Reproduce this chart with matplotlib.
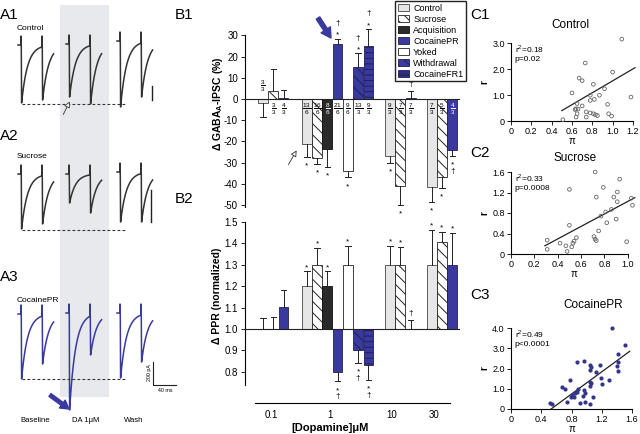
import numpy as np
import matplotlib
matplotlib.use('Agg')
import matplotlib.pyplot as plt
from matplotlib.patches import Patch, Rectangle

plt.rcParams['font.family'] = ['Liberation Sans', 'DejaVu Sans']
plt.rcParams['axes.unicode_minus'] = False
plt.rcParams['hatch.linewidth'] = 0.7
plt.rcParams['mathtext.fontset'] = 'custom'
plt.rcParams['mathtext.rm'] = 'Liberation Sans'
plt.rcParams['mathtext.bf'] = 'Liberation Sans:bold'

# ---- data -------------------------------------------------------------
# A: example traces (top of trace, 1st and 2nd IPSC peak, in panel pixels)
a_conditions = ['Baseline', 'DA 1\u03bcM', 'Wash']
a1_top = [45, 44, 41]
a1_peak1 = [103, 97, 107]
a1_peak2 = [100, 104, 97]
a2_top = [174, 174, 172]
a2_peak1 = [229, 203, 222]
a2_peak2 = [224, 213, 222]
a3_top = [314, 313, 313]
a3_peak1 = [379, 410, 378]
a3_peak2 = [364, 355, 362]

# B: bars
doses = ['0.1', '1', '10', '30']
bar_group = [0, 0, 0, 1, 1, 1, 1, 1, 1, 1, 2, 2, 2, 3, 3, 3]
bar_kind = ['Control', 'Sucrose', 'CocainePR',
            'Control', 'Sucrose', 'Acquisition', 'CocainePR', 'Yoked', 'Withdrawal', 'CocaineFR1',
            'Control', 'Sucrose', 'CocainePR',
            'Control', 'Sucrose', 'CocainePR']
b1_vals = [-2, 4, 0.4, -21, -28, -23.5, 26, -34, 15, 25, -27, -41, 0.6, -41.5, -37, -24]
b1_err = [6.5, 10, 4, 6.5, 2.5, 8.5, 2.5, 3, 6.5, 8, 3, 9, 3, 7, 5, 3]
b1_marks = ['', '', '', '*', '*', '*', '*\u2020', '*', '*\u2020', '*\u2020',
            '*', '*', '\u2020', '*', '*', '*\u2020']
b1_n = [('3', '3'), ('3', '3'), ('4', '3'), ('13', '6'), ('16', '6'), ('8', '6'), ('21', '6'),
        ('9', '6'), ('13', '3'), ('9', '3'), ('9', '3'), ('7', '3'), ('7', '3'),
        ('7', '3'), ('5', '3'), ('4', '3')]
b2_vals = [1.0, 1.0, 1.105, 1.2, 1.3, 1.2, 0.8, 1.3, 0.9, 0.83, 1.3, 1.3, 1.0, 1.3, 1.405, 1.3]
b2_err = [0.05, 0.055, 0.075, 0.07, 0.08, 0.07, 0.045, 0.09, 0.06, 0.07, 0.09, 0.085, 0.04,
          0.165, 0.05, 0.15]
b2_marks = ['', '', '', '*', '*', '*', '*\u2020', '*', '*\u2020', '*\u2020',
            '*', '*', '\u2020', '*', '*', '*']

# C: scatter (pi, r)
c1_x = [1.09, 0.73, 1.0, 0.67, 0.70, 0.81, 0.92, 0.60, 0.78, 0.87, 1.18, 0.78, 0.82, 0.65, 0.70,
        0.95, 0.64, 0.66, 0.63, 0.74, 0.78, 0.81, 0.83, 0.85, 0.96, 0.99, 0.65, 0.64, 0.74, 0.51]
c1_y = [3.15, 2.23, 1.88, 1.65, 1.55, 1.41, 1.24, 1.08, 0.99, 0.99, 0.92, 0.79, 0.83, 0.67, 0.58,
        0.64, 0.47, 0.46, 0.44, 0.35, 0.31, 0.28, 0.24, 0.21, 0.28, 0.19, 0.28, 0.15, 0.15, 0.05]
c1_fit = ([0.5, 1.22], [0.4, 2.05])
c2_x = [0.72, 0.93, 0.50, 0.79, 0.91, 0.73, 0.88, 0.91, 1.03, 1.04, 0.86, 0.81, 0.77, 0.82, 0.90,
        0.50, 0.75, 0.71, 0.72, 0.73, 0.56, 0.54, 0.53, 0.52, 0.31, 0.31, 0.42, 0.47, 0.48, 0.99]
c2_y = [1.60, 1.46, 1.26, 1.30, 1.21, 1.11, 1.11, 1.02, 1.09, 0.95, 0.87, 0.82, 0.74, 0.61, 0.68,
        0.56, 0.45, 0.34, 0.29, 0.26, 0.32, 0.25, 0.21, 0.14, 0.27, 0.09, 0.21, 0.16, 0.05, 0.24]
c2_fit = ([0.29, 1.06], [0.16, 1.10])
c3_x = [1.34, 1.51, 1.42, 1.41, 1.40, 1.41, 1.18, 0.96, 0.87, 1.05, 1.06, 1.04, 1.12, 1.19, 1.30,
        1.20, 1.04, 1.06, 1.05, 0.78, 0.67, 0.72, 0.89, 0.87, 0.84, 0.96, 0.98, 0.95, 0.81, 0.79,
        0.83, 1.08, 0.74, 0.91, 0.98, 1.05, 0.51, 0.54]
c3_y = [4.0, 3.15, 2.74, 2.33, 2.11, 1.89, 2.16, 2.36, 2.33, 2.16, 2.05, 1.95, 1.84, 1.54, 1.43,
        1.23, 1.34, 1.26, 1.13, 1.43, 1.07, 0.97, 0.97, 0.85, 0.80, 0.93, 0.77, 0.64, 0.69, 0.57,
        0.57, 0.57, 0.34, 0.31, 0.36, 0.23, 0.28, 0.25]
c3_fit = ([0.53, 1.57], [0.0, 2.85])

# ---- styles -----------------------------------------------------------
BLUE = '#3a3a9e'
NAVY = '#1e1e5e'
FILL = {'Control': '#e6e6e6', 'Sucrose': 'white', 'Acquisition': '#2a2a2a', 'CocainePR': BLUE,
        'Yoked': 'white', 'Withdrawal': BLUE, 'CocaineFR1': BLUE}
EDGE = {'Control': '#444444', 'Sucrose': '#222222', 'Acquisition': '#111111', 'CocainePR': '#22224a',
        'Yoked': '#222222', 'Withdrawal': NAVY, 'CocaineFR1': NAVY}
HATCH = {'Sucrose': '\\\\\\', 'Withdrawal': '\\\\\\', 'CocaineFR1': '---'}
DARK = ['Acquisition', 'CocainePR', 'Withdrawal', 'CocaineFR1']

W, H = 640, 434
fig = plt.figure(figsize=(6.4, 4.34), dpi=100)


def rect(l, t, r, b):
    return [l / W, 1 - b / H, (r - l) / W, (b - t) / H]


# overlay in pixel coordinates for panel A and annotations
ov = fig.add_axes([0, 0, 1, 1])
ov.set_xlim(0, W)
ov.set_ylim(H, 0)
ov.axis('off')

ov.add_patch(Rectangle((60, 5), 49, 392, color='#e7e9ed', lw=0, zorder=0))


def ipsc_trace(x0, top, p1, p2, tau=6.0):
    xs = [x0 - 3, x0, x0, x0 + 0.3, x0 + 0.6]
    ys = [top, top, top - 9, top + 4, p1]
    t = np.linspace(0, 20.4, 60)
    xs += list(x0 + 0.6 + t)
    ys += list(top + (p1 - top) * np.exp(-t / tau))
    x1 = x0 + 21
    xs += [x1, x1, x1 + 0.3, x1 + 0.6]
    ys += [ys[-1], top - 9, top + 4, p2]
    t = np.linspace(0, 11, 35)
    xs += list(x1 + 0.6 + t)
    ys += list(top + (p2 - top) * np.exp(-t / tau))
    return xs, ys


starts = [21, 69, 120]
for tops, pk1, pk2, col, dash_y in [(a1_top, a1_peak1, a1_peak2, '#333333', 104),
                                    (a2_top, a2_peak1, a2_peak2, '#333333', 230),
                                    (a3_top, a3_peak1, a3_peak2, BLUE, 379)]:
    for x0, tp, p1, p2 in zip(starts, tops, pk1, pk2):
        xs, ys = ipsc_trace(x0, tp, p1, p2)
        ov.plot(xs, ys, color=col, lw=1.1)
    ov.plot([22, 125], [dash_y, dash_y], color='#333333', lw=0.8, ls=(0, (2.5, 2)))

# scale bars
ov.plot([152, 152], [86, 100], color='#222222', lw=1)
ov.plot([151, 151], [190, 222], color='#222222', lw=1)
ov.plot([153, 153, 176], [362, 385, 385], color='#222222', lw=0.8)
ov.text(149, 373, '200 pA', rotation=90, fontsize=3.8, ha='center', va='center')
ov.text(165, 390, '40 ms', fontsize=3.8, ha='center', va='center')

for lab, x in zip(a_conditions, [35, 86, 134]):
    ov.text(x, 421, lab, fontsize=5.5, ha='center', va='center')
ov.text(17, 29, 'Control', fontsize=6, va='center')
ov.text(17, 157, 'Sucrose', fontsize=6, va='center')
ov.text(17, 300, 'CocainePR', fontsize=6, va='center')

for lab, x, y in [('A1', 0, 15), ('A2', 0, 136), ('A3', 0, 277), ('B1', 175, 15), ('B2', 175, 199),
                  ('C1', 470, 15), ('C2', 470, 153), ('C3', 470, 295)]:
    ov.text(x, y, lab, fontsize=11, va='center', ha='left')

# arrows
ov.annotate('', xy=(71, 99), xytext=(62, 117),
            arrowprops=dict(arrowstyle='-|>', fc='white', ec='#333333', lw=0.6, mutation_scale=9))
ov.annotate('', xy=(69, 409), xytext=(50, 395),
            arrowprops=dict(facecolor=BLUE, edgecolor=BLUE, width=2.5, headwidth=7, headlength=6))
ov.annotate('', xy=(298, 148), xytext=(287, 167),
            arrowprops=dict(arrowstyle='-|>', fc='white', ec='#333333', lw=0.6, mutation_scale=9))
ov.annotate('', xy=(331, 38), xytext=(318, 18),
            arrowprops=dict(facecolor=BLUE, edgecolor=BLUE, width=3, headwidth=8, headlength=7))

# ---- B panels ---------------------------------------------------------
group_start = [1.75, 6.0, 14.1, 18.15]
xpos = []
cnt = {}
for g in bar_group:
    xpos.append(group_start[g] + cnt.get(g, 0))
    cnt[g] = cnt.get(g, 0) + 1


def bar_panel(ax, vals, errs, marks, base):
    for x, k, v, e, m in zip(xpos, bar_kind, vals, errs, marks):
        ax.bar(x, v - base, bottom=base, width=0.95, color=FILL[k], edgecolor=EDGE[k],
               hatch=HATCH.get(k), linewidth=0.6, zorder=2)
        s = 1 if v >= base else -1
        tip = v + s * e
        ax.plot([x, x], [v, tip], color='#222222', lw=0.7, zorder=3)
        ax.plot([x - 0.27, x + 0.27], [tip, tip], color='#222222', lw=0.7, zorder=3)
        for j, ch in enumerate(m):
            off = s * (4.5 + 6 * j) if ch == '*' else s * (5 + 6 * j)
            ax.annotate(ch, (x, tip), xytext=(0, off - (2.0 if ch == '*' else 0)),
                        textcoords='offset points', ha='center', va='center', fontsize=6)
    ax.axhline(base, color='#222222', lw=0.8, zorder=4)
    ax.set_xlim(0, 20.9)
    ax.set_facecolor('none')
    for sp in ['top', 'right']:
        ax.spines[sp].set_visible(False)
    ax.tick_params(axis='y', labelsize=7, length=3, width=0.6, pad=2)


ax1 = fig.add_axes(rect(245, 20, 460, 215))
ax1.set_ylim(-54.7, 37.3)
bar_panel(ax1, b1_vals, b1_err, b1_marks, 0.0)
ax1.spines['bottom'].set_visible(False)
ax1.spines['left'].set_bounds(-51, 30)
ax1.set_yticks(range(30, -51, -10))
ax1.set_xticks([])
ax1.set_ylabel('\u0394 GABA$_{\\mathbf{A}}$-IPSC (%)', fontsize=7.5, fontweight='bold')
ax1.yaxis.set_label_coords(-0.095, 0.57)
for x, k, v, (nu, de) in zip(xpos, bar_kind, b1_vals, b1_n):
    y = 6 if -5 < v < 0 else -5
    col = 'white' if (k in DARK and v < 0) else 'black'
    ax1.text(x, y, r'$\frac{%s}{%s}$' % (nu, de), fontsize=6.5, ha='center', va='center',
             color=col, zorder=5)

ax2 = fig.add_axes(rect(245, 215, 460, 403))
ax2.set_ylim(0.654, 1.533)
bar_panel(ax2, b2_vals, b2_err, b2_marks, 1.0)
ax2.spines['left'].set_bounds(0.74, 1.5)
ax2.spines['bottom'].set_bounds(1.0, 19.9)
ax2.spines['bottom'].set_linewidth(0.8)
ax2.set_yticks([0.8, 0.9, 1.0, 1.1, 1.2, 1.3, 1.4, 1.5])
ax2.set_xticks([2.6, 8.3, 14.3, 18.4])
ax2.set_xticklabels(doses)
ax2.tick_params(axis='x', length=0, labelsize=7, pad=5)
ax2.set_ylabel('\u0394 PPR (normalized)', fontsize=7.5, fontweight='bold')
ax2.yaxis.set_label_coords(-0.105, 0.57)
ov.text(330, 428, '[Dopamine]\u03bcM', fontsize=8, fontweight='bold', ha='center', va='center')

kinds = ['Control', 'Sucrose', 'Acquisition', 'CocainePR', 'Yoked', 'Withdrawal', 'CocaineFR1']
handles = [Patch(facecolor=FILL[k], edgecolor=EDGE[k], hatch=HATCH.get(k), lw=0.6) for k in kinds]
handles[-1] = Patch(facecolor='#30307e', edgecolor=NAVY, hatch='---', lw=0.6)
fig.legend(handles, kinds, loc='upper left', bbox_to_anchor=(395 / W, 1 - 1 / H), fontsize=6.5,
           frameon=True, fancybox=False, edgecolor='#222222', framealpha=1, handlelength=1.2,
           handleheight=0.8, labelspacing=0.22, borderpad=0.3, handletextpad=0.5, borderaxespad=0)


# ---- C panels ---------------------------------------------------------
def scatter_panel(r, xs, ys, fit, xt, xtl, yt, ytl, xlim, ylim, title, stats, filled, tpos):
    ax = fig.add_axes(r)
    if filled:
        ax.scatter(xs, ys, s=9, color='#34348a', lw=0, clip_on=False, zorder=3)
    else:
        ax.scatter(xs, ys, s=7, facecolor='none', edgecolor='#666666', lw=0.6, clip_on=False, zorder=3)
    ax.plot(fit[0], fit[1], color='#222222', lw=0.9, clip_on=False)
    ax.set_xlim(*xlim)
    ax.set_ylim(*ylim)
    ax.set_xticks(xt)
    ax.set_xticklabels(xtl)
    ax.set_yticks(yt)
    ax.set_yticklabels(ytl)
    ax.spines['left'].set_bounds(yt[0], yt[-1])
    ax.spines['bottom'].set_bounds(xt[0], xt[-1])
    for sp in ['top', 'right']:
        ax.spines[sp].set_visible(False)
    ax.set_facecolor('none')
    ax.tick_params(labelsize=6.5, length=3, width=0.6, pad=1.5)
    ax.set_ylabel('r', fontsize=7, fontweight='bold', labelpad=2)
    ax.set_xlabel('\u03c0', fontsize=7, labelpad=0)
    ax.text(0.03, 1.0, stats, transform=ax.transAxes, fontsize=6, va='top', ha='left',
            linespacing=1.2)
    ov.text(tpos[0], tpos[1], title, fontsize=8.5, ha='center', va='center')
    return ax


scatter_panel(rect(511, 43, 633, 121), c1_x, c1_y, c1_fit,
              [0, 0.2, 0.4, 0.6, 0.8, 1.0, 1.2], ['0', '0.2', '0.4', '0.6', '0.8', '1.0', '1.2'],
              [0, 1, 2, 3], ['0', '1.0', '2.0', '3.0'], (0, 1.2), (0, 3.0),
              'Control', 'r$^2$=0.18\np=0.02', False, (570, 25))
scatter_panel(rect(511, 172, 636, 254), c2_x, c2_y, c2_fit,
              [0, 0.2, 0.4, 0.6, 0.8, 1.0], ['0', '0.2', '0.4', '0.6', '0.8', '1.0'],
              [0, 0.4, 0.8, 1.2, 1.6], ['0', '0.4', '0.8', '1.2', '1.6'], (0, 1.07), (0, 1.6),
              'Sucrose', 'r$^2$=0.33\np=0.0008', False, (575, 158))
scatter_panel(rect(511, 328, 632, 409), c3_x, c3_y, c3_fit,
              [0, 0.4, 0.8, 1.2, 1.6], ['0', '0.4', '0.8', '1.2', '1.6'],
              [0, 1, 2, 3, 4], ['0', '1.0', '2.0', '3.0', '4.0'], (0, 1.6), (0, 4.0),
              'CocainePR', 'r$^2$=0.49\np<0.0001', True, (593, 305))

fig.savefig('out.png', dpi=100)
